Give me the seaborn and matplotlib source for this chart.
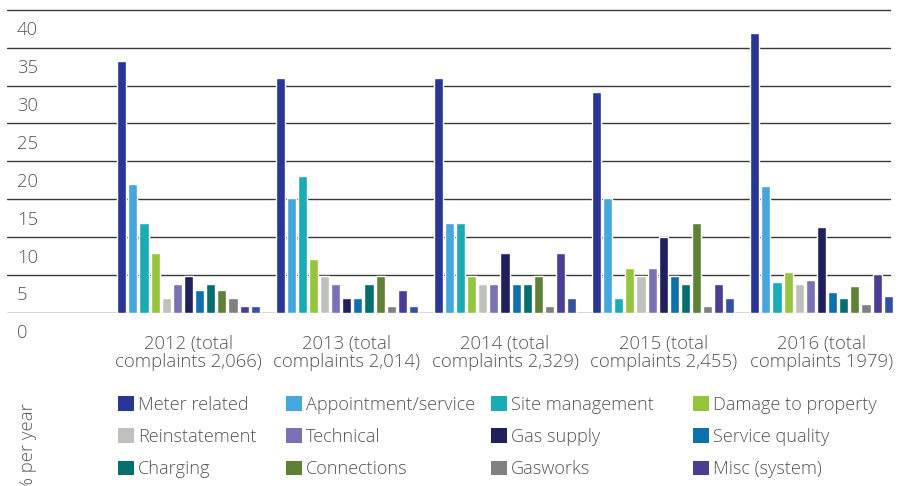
import matplotlib
matplotlib.use("Agg")
import matplotlib.pyplot as plt
from matplotlib.patches import Patch
from matplotlib.transforms import ScaledTranslation
import seaborn as sns
import pandas as pd

years = ["2012 (total\ncomplaints 2,066)", "2013 (total\ncomplaints 2,014)",
         "2014 (total\ncomplaints 2,329)", "2015 (total\ncomplaints 2,455)",
         "2016 (total\ncomplaints 1979)"]

categories = ["Meter related", "Appointment/service", "Site management",
              "Damage to property", "Reinstatement", "Technical", "Gas supply",
              "Service quality", "Charging", "Connections", "Gasworks",
              "Misc (system)", "Other"]

colors = ["#293693", "#46a6de", "#1aacb4", "#95c43d", "#bfc1bd", "#7a72b5",
          "#20205f", "#0f70ae", "#076e70", "#5e8136", "#7f807f", "#493e94",
          "#3450a0"]

meter_related = [33.3, 31.0, 31.0, 29.2, 37.0]
appointment_service = [17.0, 15.2, 11.9, 15.2, 16.7]
site_management = [11.9, 18.1, 11.9, 1.9, 4.1]
damage_to_property = [7.9, 7.1, 4.9, 5.9, 5.4]
reinstatement = [2.0, 4.9, 3.8, 4.9, 3.8]
technical = [3.8, 3.8, 3.8, 5.9, 4.3]
gas_supply = [4.9, 1.9, 7.9, 10.0, 11.3]
service_quality = [3.0, 1.9, 3.8, 4.9, 2.7]
charging = [3.8, 3.8, 3.8, 3.8, 1.9]
connections = [3.0, 4.9, 4.9, 11.9, 3.5]
gasworks = [2.0, 0.9, 0.9, 0.9, 1.15]
misc_system = [0.9, 3.0, 7.9, 3.8, 5.1]
other = [0.9, 0.9, 1.9, 1.9, 2.2]

series = [meter_related, appointment_service, site_management,
          damage_to_property, reinstatement, technical, gas_supply,
          service_quality, charging, connections, gasworks, misc_system, other]

y_ticks = [0, 5, 10, 15, 20, 25, 30, 35, 40]

rows = []
for cat, vals in zip(categories, series):
    for yr, v in zip(years, vals):
        rows.append({"year": yr, "category": cat, "value": v})
df = pd.DataFrame(rows)

sns.set_theme(style="white")
plt.rcParams["font.family"] = ["Open Sans", "DejaVu Sans"]
plt.rcParams["font.weight"] = 300
text_color = "#555555"

W, H = 904, 486
fig = plt.figure(figsize=(W / 100, H / 100), dpi=100)
ax_left, ax_right = 7, 892.7
ax_bottom, ax_top = 312.7, 7.7
ax = fig.add_axes([ax_left / W, 1 - ax_bottom / H,
                   (ax_right - ax_left) / W, (ax_bottom - ax_top) / H])

sns.barplot(data=df, x="year", y="value", hue="category",
            hue_order=categories, palette=colors, order=years,
            width=0.913, gap=0.18, saturation=1, legend=False, ax=ax)

ax.set_xlim(-1.147, 4.45)
ax.set_ylim(0, 40.3)
for v in y_ticks:
    ax.axhline(v, xmin=0, xmax=(890 - ax_left) / (ax_right - ax_left),
               color="#3a3a3a", lw=1.0, zorder=0)
for s in ax.spines.values():
    s.set_visible(False)

ax.set_xlabel("")
ax.set_ylabel("")
ax.set_yticks(y_ticks)
ax.set_yticklabels([str(v) for v in y_ticks])
ax.tick_params(axis="y", length=0, pad=0, labelsize=13.3, labelcolor=text_color)
shift = ScaledTranslation(10 / 100, -18.5 / 100, fig.dpi_scale_trans)
for lab in ax.get_yticklabels():
    lab.set_horizontalalignment("left")
    lab.set_transform(lab.get_transform() + shift)

ax.tick_params(axis="x", length=0, pad=16, labelsize=13.3, labelcolor=text_color)
for lab in ax.get_xticklabels():
    lab.set_linespacing(1.0)
    lab.set_horizontalalignment("center")

# legend: four columns placed side by side
handles = [Patch(facecolor=c, edgecolor="none", label=n)
           for c, n in zip(colors[:12], categories[:12])]
col_x = [118, 286, 491, 693]
fs = 13.1
fs_px = fs * 100 / 72
for c in range(4):
    col_handles = [handles[r * 4 + c] for r in range(3)]
    fig.legend(handles=col_handles, loc="upper left",
               bbox_to_anchor=(col_x[c] / W, 1 - 395.5 / H),
               frameon=False, borderpad=0, borderaxespad=0,
               handlelength=16 / fs_px, handleheight=16 / fs_px,
               handletextpad=4 / fs_px, labelspacing=0.79,
               fontsize=fs, labelcolor=text_color)

fig.text(28 / W, 1 - 403 / H, "% per year", rotation=90, ha="center",
         va="top", fontsize=13.3, color=text_color)

fig.savefig("out.png", dpi=100)
